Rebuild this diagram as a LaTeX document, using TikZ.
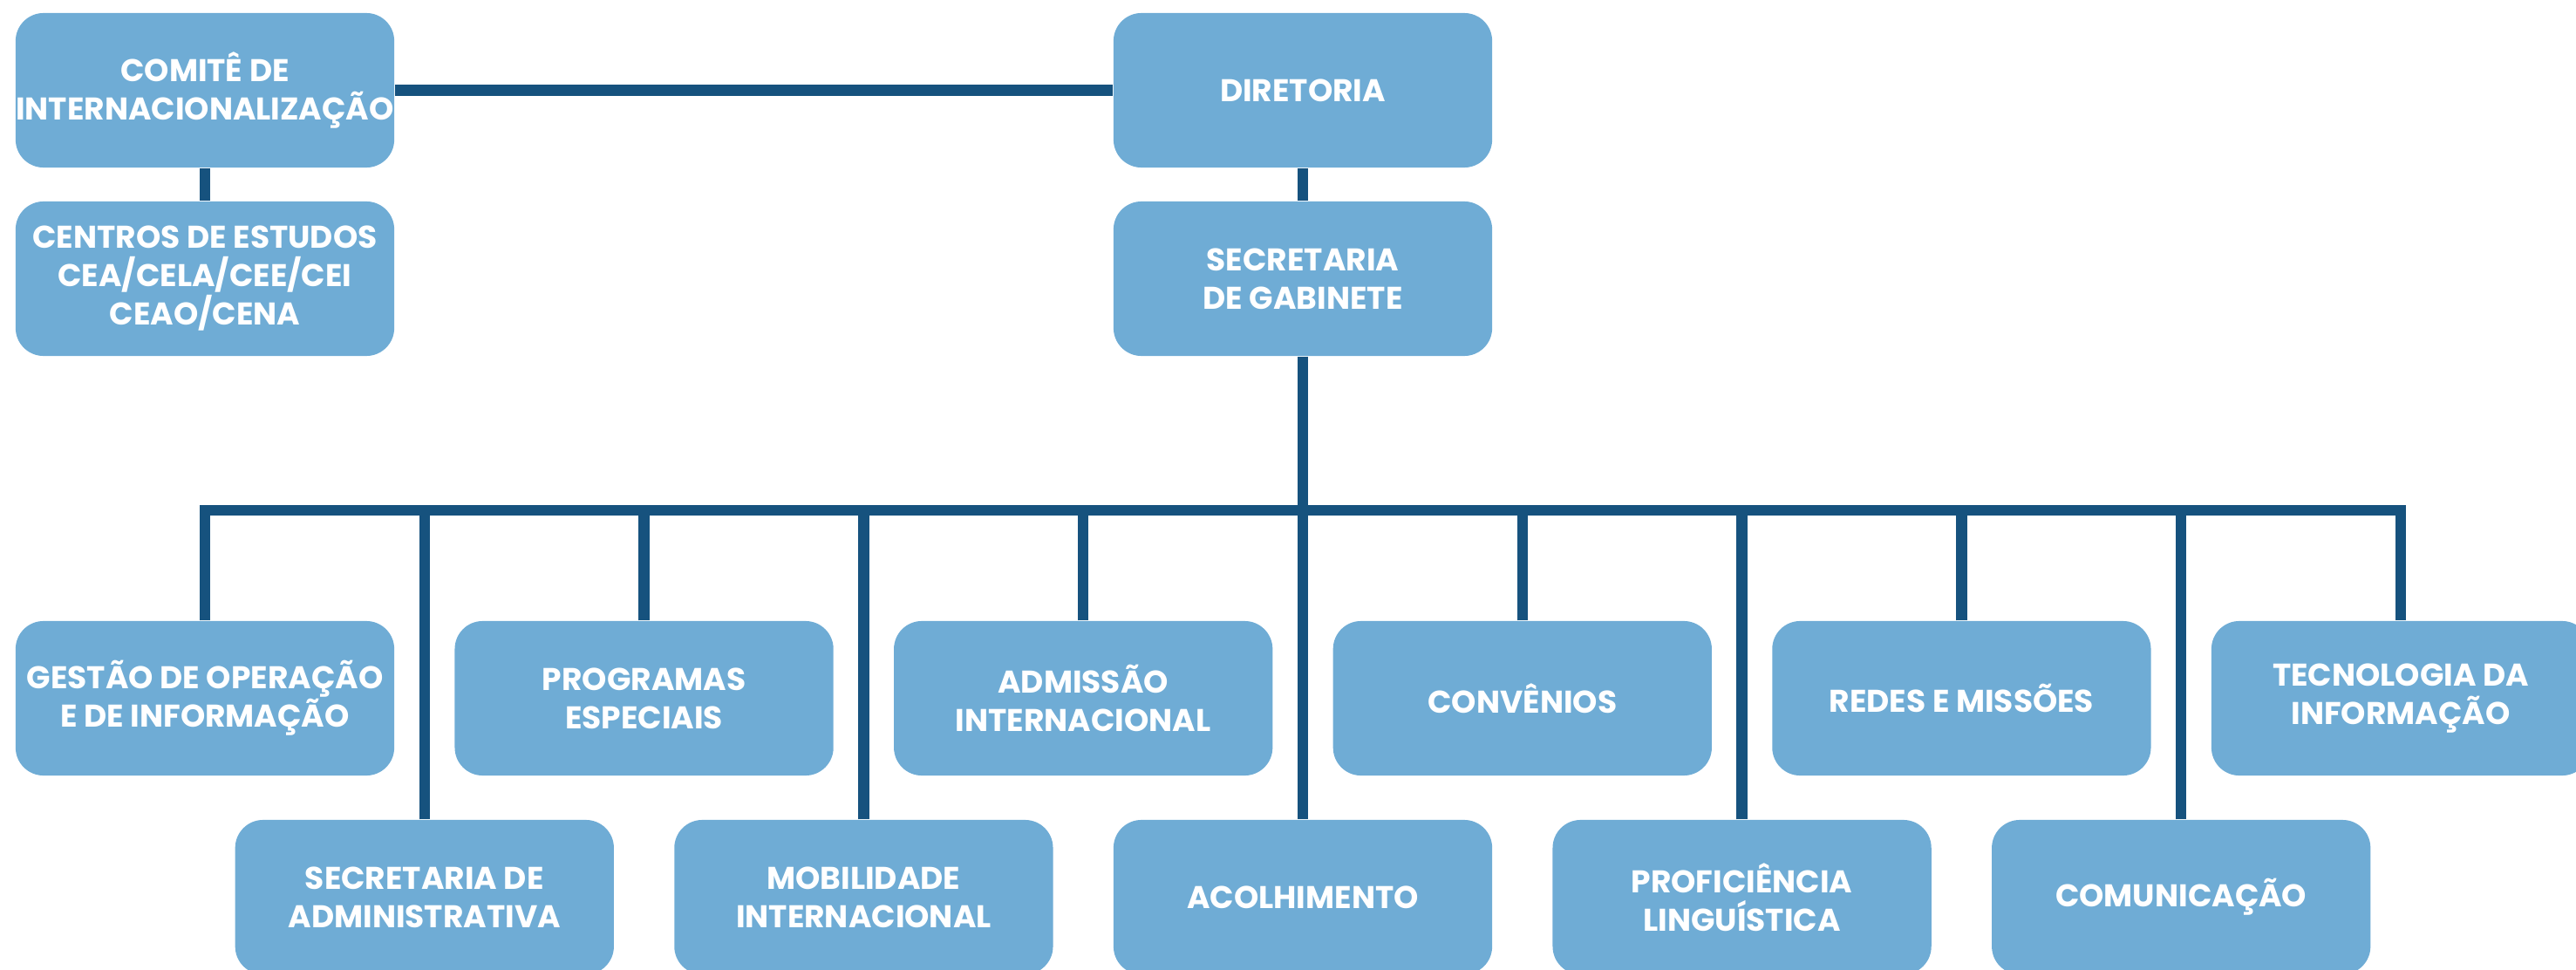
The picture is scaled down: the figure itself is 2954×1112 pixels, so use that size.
\documentclass[tikz,border=0pt]{standalone}
\usepackage{fontspec}
\setmainfont{Poppins}
\definecolor{boxblue}{HTML}{6FACD5}
\definecolor{lineblue}{HTML}{16527E}
\begin{document}
\begin{tikzpicture}[x=0.01cm,y=-0.01cm,
  box/.style={fill=boxblue, rounded corners=0.32cm, minimum width=4.34cm,
    minimum height=1.77cm, inner sep=0pt, text=white, align=center,
    font=\fontsize{10.24pt}{12.5pt}\selectfont\bfseries},
  conn/.style={draw=lineblue, line width=0.123cm}]
\useasboundingbox (0,0) rectangle (2954,1112);
% top
\node[box] (com) at (235,103.5) {COMITÊ DE\\INTERNACIONALIZAÇÃO};
\node[box] (cen) at (235,319.5) {CENTROS DE ESTUDOS\\CEA/CELA/CEE/CEI\\CEAO/CENA};
\node[box] (dir) at (1494,103.5) {DIRETORIA};
\node[box] (sec) at (1494,319.5) {SECRETARIA\\DE GABINETE};
% row 1
\node[box] (ges) at (235,800.5) {GESTÃO DE OPERAÇÃO\\E DE INFORMAÇÃO};
\node[box] (pro) at (738.6,800.5) {PROGRAMAS\\ESPECIAIS};
\node[box] (adm) at (1242.2,800.5) {ADMISSÃO\\INTERNACIONAL};
\node[box] (con) at (1745.8,800.5) {CONVÊNIOS};
\node[box] (red) at (2249.4,800.5) {REDES E MISSÕES};
\node[box] (tec) at (2753,800.5) {TECNOLOGIA DA\\INFORMAÇÃO};
% row 2
\node[box] (sad) at (486.8,1028.5) {SECRETARIA DE\\ADMINISTRATIVA};
\node[box] (mob) at (990.4,1028.5) {MOBILIDADE\\INTERNACIONAL};
\node[box] (aco) at (1494,1028.5) {ACOLHIMENTO};
\node[box] (prf) at (1997.6,1028.5) {PROFICIÊNCIA\\LINGUÍSTICA};
\node[box] (cmu) at (2501.2,1028.5) {COMUNICAÇÃO};
% connectors
\coordinate (bus) at (0,585);
\draw[conn] (com.east) -- (dir.west);
\draw[conn] (com.south) -- (cen.north);
\draw[conn] (dir.south) -- (sec.north);
\draw[conn] (sec.south) -- (aco.north);
\draw[conn] (ges.north) -- (ges.north |- bus) -- (tec.north |- bus) -- (tec.north);
\foreach \n in {pro,adm,con,red,sad,mob,prf,cmu}
  \draw[conn] (\n.north) -- (\n.north |- bus);
\end{tikzpicture}
\end{document}
